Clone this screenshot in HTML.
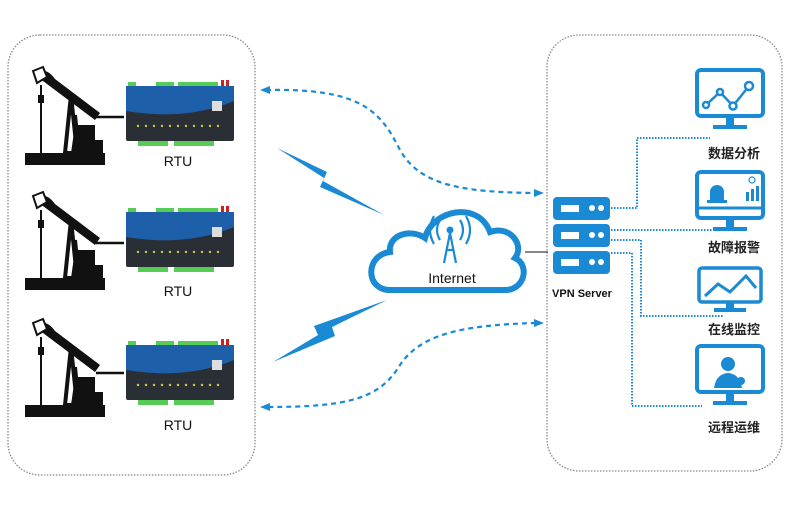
<!DOCTYPE html>
<html><head><meta charset="utf-8"><style>
html,body{margin:0;padding:0;background:#fff;}
svg{display:block;}
text{font-family:"Liberation Sans","Noto Sans CJK SC",sans-serif;}
</style></head><body>
<svg width="800" height="510" viewBox="0 0 800 510" xmlns="http://www.w3.org/2000/svg">
<defs>
<g id="pump">
 <rect x="0" y="88" width="80" height="12" fill="#111"/>
 <path d="M40,88 L46,30 L52,88 Z" fill="none" stroke="#111" stroke-width="4"/>
 <path d="M50,60 L70,60 L70,75 L78,75 L78,88 L46,88 Z" fill="#111"/>
 <path d="M10,10 Q20,0 30,14 L75,48 L70,55 L26,22 Z" fill="#111"/>
 <path d="M8,6 L18,2 L22,12 L12,18 Z" fill="#fff" stroke="#111" stroke-width="2"/>
 <line x1="16" y1="20" x2="16" y2="88" stroke="#111" stroke-width="2"/>
 <rect x="13" y="30" width="6" height="8" fill="#111"/>
 <line x1="50" y1="50" x2="52" y2="70" stroke="#111" stroke-width="4"/>
</g>
<g id="rtu">
 <rect x="2" y="-4" width="8" height="5" fill="#5c5"/><rect x="30" y="-4" width="18" height="5" fill="#5c5"/><rect x="52" y="-4" width="40" height="5" fill="#5c5"/>
 <rect x="95" y="-6" width="3" height="7" fill="#c22"/><rect x="100" y="-6" width="3" height="7" fill="#c22"/>
 <rect x="0" y="0" width="108" height="55" rx="2" fill="#2a2f36"/>
 <path d="M0,0 H108 V15 Q60,35 0,25 Z" fill="#1d5fa8"/>
 <rect x="86" y="15" width="10" height="10" fill="#ddd"/>
 <g fill="#cc4">
 <circle cx="12" cy="40" r="1.2"/><circle cx="20" cy="40" r="1.2"/><circle cx="28" cy="40" r="1.2"/><circle cx="36" cy="40" r="1.2"/><circle cx="44" cy="40" r="1.2"/><circle cx="52" cy="40" r="1.2"/><circle cx="60" cy="40" r="1.2"/><circle cx="68" cy="40" r="1.2"/><circle cx="76" cy="40" r="1.2"/><circle cx="84" cy="40" r="1.2"/><circle cx="92" cy="40" r="1.2"/></g>
 <rect x="12" y="55" width="30" height="5" fill="#5c5"/><rect x="48" y="55" width="40" height="5" fill="#5c5"/>
</g>
<g id="mon">
 <rect x="2" y="2" width="66" height="46" rx="4" fill="#fff" stroke="#1a8ad4" stroke-width="4"/>
 <rect x="31" y="49" width="8" height="10" fill="#1a8ad4"/>
 <rect x="18" y="57" width="34" height="4" fill="#1a8ad4"/>
</g>
</defs>

<rect x="8" y="35" width="247" height="440" rx="32" fill="none" stroke="#888" stroke-width="1.3" stroke-dasharray="1.5,1.5"/>
<rect x="547" y="35" width="235" height="436" rx="32" fill="none" stroke="#888" stroke-width="1.3" stroke-dasharray="1.5,1.5"/>

<use href="#pump" x="25" y="65"/>
<use href="#pump" x="25" y="190"/>
<use href="#pump" x="25" y="317"/>
<line x1="96" y1="117" x2="124" y2="117" stroke="#111" stroke-width="2.5"/>
<line x1="96" y1="243" x2="124" y2="243" stroke="#111" stroke-width="2.5"/>
<line x1="96" y1="373" x2="124" y2="373" stroke="#111" stroke-width="2.5"/>
<use href="#rtu" x="126" y="86"/>
<use href="#rtu" x="126" y="212"/>
<use href="#rtu" x="126" y="345"/>
<text x="178" y="166" font-size="14" text-anchor="middle" fill="#111">RTU</text>
<text x="178" y="296" font-size="14" text-anchor="middle" fill="#111">RTU</text>
<text x="178" y="430" font-size="14" text-anchor="middle" fill="#111">RTU</text>

<path d="M266,90 C360,88 380,110 400,150 C420,185 460,192 534,193" fill="none" stroke="#1a8ad4" stroke-width="2.2" stroke-dasharray="5,4"/>
<path d="M270,86 L260,90 L270,94 Z" fill="#1a8ad4"/>
<path d="M534,189 L544,193 L534,197 Z" fill="#1a8ad4"/>
<path d="M536,323 C460,325 420,335 400,365 C380,398 350,407 268,407" fill="none" stroke="#1a8ad4" stroke-width="2.2" stroke-dasharray="5,4"/>
<path d="M270,403 L260,407 L270,411 Z" fill="#1a8ad4"/>
<path d="M534,319 L544,323 L534,327 Z" fill="#1a8ad4"/>

<path d="M277,148 L327,172 L323,181 L384,215 L320,187 L324,178 Z" fill="#1a8ad4"/>
<path d="M273,362 L318,335 L314,326 L387,300 L332,327 L335,336 Z" fill="#1a8ad4"/>

<path d="M390,290 C365,290 365,255 390,252 C388,235 410,228 425,238 C432,210 478,200 490,232 C510,225 525,245 515,258 C530,265 525,290 505,290 Z" fill="#fff" stroke="#1a8ad4" stroke-width="6"/>
<g fill="none" stroke="#1a8ad4" stroke-width="2.2">
 <path d="M440,220 Q434,230 440,240"/><path d="M434,216 Q426,230 434,244"/>
 <path d="M460,220 Q466,230 460,240"/><path d="M466,216 Q474,230 466,244"/>
 <path d="M450,233 L444,263 M450,233 L456,263 M446,250 H454"/>
</g>
<circle cx="450" cy="230" r="3.5" fill="#1a8ad4"/>
<text x="452" y="283" font-size="14" text-anchor="middle" fill="#111">Internet</text>
<line x1="525" y1="252" x2="548" y2="252" stroke="#111" stroke-width="1"/>

<g fill="#1a8ad4">
 <rect x="553" y="197" width="57" height="23" rx="4"/>
 <rect x="553" y="224" width="57" height="23" rx="4"/>
 <rect x="553" y="251" width="57" height="23" rx="4"/>
</g>
<g fill="#fff">
 <rect x="561" y="205" width="18" height="7"/><circle cx="592" cy="208" r="3"/><circle cx="601" cy="208" r="3"/>
 <rect x="561" y="232" width="18" height="7"/><circle cx="592" cy="235" r="3"/><circle cx="601" cy="235" r="3"/>
 <rect x="561" y="259" width="18" height="7"/><circle cx="592" cy="262" r="3"/><circle cx="601" cy="262" r="3"/>
</g>
<text x="582" y="297" font-size="11" font-weight="bold" text-anchor="middle" fill="#111">VPN Server</text>

<g fill="none" stroke="#1a8ad4" stroke-width="2" stroke-dasharray="1.5,1.5">
 <path d="M611,208 H637 V138 H710"/>
 <path d="M611,230 H712"/>
 <path d="M611,240 H641 V316 H724"/>
 <path d="M611,253 H632 V406 H702"/>
</g>

<use href="#mon" x="695" y="68"/>
<g fill="none" stroke="#1a8ad4" stroke-width="2.5"><path d="M706,105 L720,92 L733,106 L749,86"/></g>
<g fill="#fff" stroke="#1a8ad4" stroke-width="2.5"><circle cx="706" cy="105" r="3"/><circle cx="720" cy="92" r="3"/><circle cx="733" cy="106" r="3.5"/><circle cx="749" cy="86" r="4"/></g>
<text x="734" y="158" font-size="13" font-weight="bold" text-anchor="middle" fill="#222">数据分析</text>

<use href="#mon" x="695" y="170"/>
<line x1="697" y1="208" x2="763" y2="208" stroke="#1a8ad4" stroke-width="3"/>
<path d="M710,200 V192 A7,7 0 0 1 724,192 V200 Z" fill="#1a8ad4"/><rect x="707" y="200" width="20" height="3" fill="#1a8ad4"/>
<rect x="746" y="192" width="3" height="9" fill="#1a8ad4"/><rect x="751" y="189" width="3" height="12" fill="#1a8ad4"/><rect x="756" y="186" width="3" height="15" fill="#1a8ad4"/>
<circle cx="752" cy="180" r="3" fill="none" stroke="#1a8ad4" stroke-width="1.2"/>
<text x="734" y="252" font-size="13" font-weight="bold" text-anchor="middle" fill="#222">故障报警</text>

<rect x="699" y="268" width="62" height="34" rx="3" fill="#fff" stroke="#1a8ad4" stroke-width="3.5"/>
<rect x="726" y="303" width="8" height="6" fill="#1a8ad4"/>
<rect x="714" y="308" width="32" height="4" fill="#1a8ad4"/>
<path d="M705,296 L718,284 L730,292 L746,276 L756,288" fill="none" stroke="#1a8ad4" stroke-width="3"/>
<text x="734" y="334" font-size="13" font-weight="bold" text-anchor="middle" fill="#222">在线监控</text>

<use href="#mon" x="695" y="344"/>
<circle cx="728" cy="364" r="7" fill="#1a8ad4"/>
<path d="M714,388 Q716,374 728,373 Q740,374 742,388 Z" fill="#1a8ad4"/>
<circle cx="741" cy="381" r="4" fill="#1a8ad4"/>
<text x="734" y="432" font-size="13" font-weight="bold" text-anchor="middle" fill="#222">远程运维</text>
</svg>
</body></html>
